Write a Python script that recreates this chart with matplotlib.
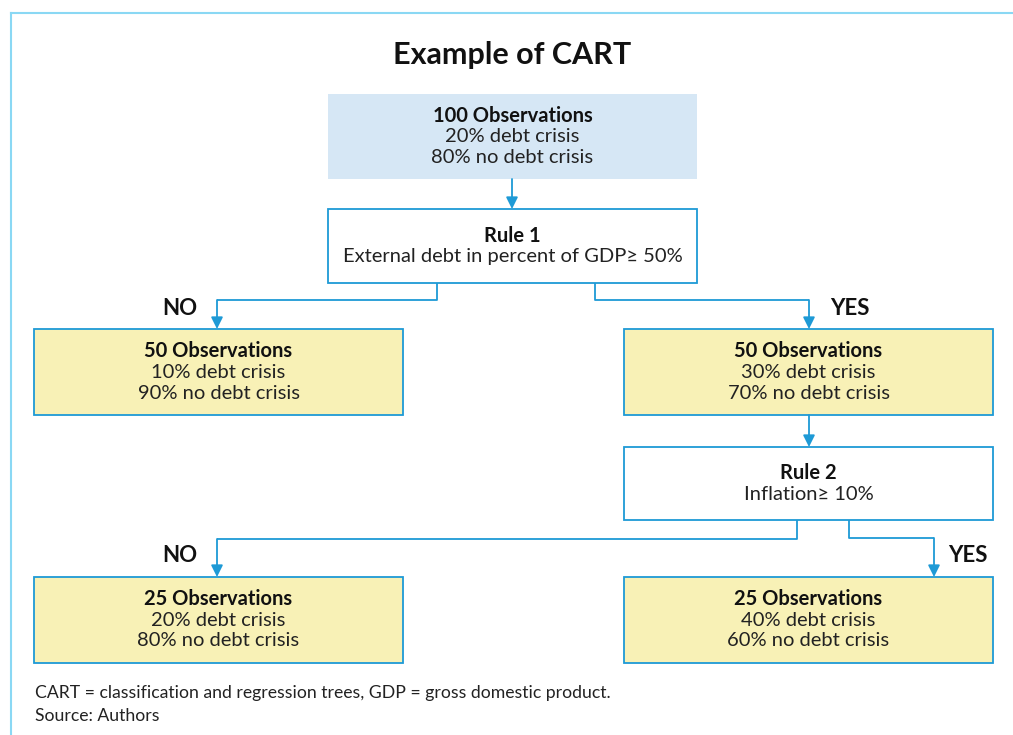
import matplotlib.pyplot as plt
from matplotlib.patches import Rectangle

plt.rcParams['font.family'] = ['Lato', 'DejaVu Sans']

# Tree contents
titulo = 'Example of CART'
nos_titulo = ['100 Observations', 'Rule 1', '50 Observations', '50 Observations',
              'Rule 2', '25 Observations', '25 Observations']
nos_texto = [
    ['20% debt crisis', '80% no debt crisis'],
    ['External debt in percent of GDP\u2265 50%'],
    ['10% debt crisis', '90% no debt crisis'],
    ['30% debt crisis', '70% no debt crisis'],
    ['Inflation\u2265 10%'],
    ['20% debt crisis', '80% no debt crisis'],
    ['40% debt crisis', '60% no debt crisis'],
]
rotulos = ['NO', 'YES', 'NO', 'YES']
nota = 'CART = classification and regression trees, GDP = gross domestic product.'
fonte = 'Source: Authors'

azul = '#1e9ad6'
amarelo = '#f8f1b6'
azul_claro = '#d6e7f5'

# box geometry (x0, y0, x1, y1) in pixels, y down
caixas = [
    (328, 94, 697, 179),
    (328, 209, 697, 283),
    (34, 329, 403, 415),
    (624, 329, 993, 415),
    (624, 447, 993, 520),
    (34, 577, 403, 663),
    (624, 577, 993, 663),
]
cores = [azul_claro, 'white', amarelo, amarelo, 'white', amarelo, amarelo]
bordas = [None, azul, azul, azul, azul, azul, azul]

fig = plt.figure(figsize=(10.13, 7.35), dpi=100)
ax = fig.add_axes([0, 0, 1, 1])
ax.set_xlim(0, 1013)
ax.set_ylim(735, 0)
ax.axis('off')

# moldura (linhas de cima e da esquerda)
ax.plot([11, 1013], [13, 13], color='#8ad8f4', lw=1.5)
ax.plot([11, 11], [13, 735], color='#8ad8f4', lw=1.5)

ax.text(512, 55, titulo, ha='center', va='center', fontsize=22, fontweight='bold', color='#111111')

for (x0, y0, x1, y1), cor, borda, cab, linhas in zip(caixas, cores, bordas, nos_titulo, nos_texto):
    ax.add_patch(Rectangle((x0, y0), x1 - x0, y1 - y0, facecolor=cor,
                           edgecolor=borda if borda else 'none', lw=1.3))
    xc = (x0 + x1) / 2
    n = 1 + len(linhas)
    yc = (y0 + y1) / 2
    passo = 21
    ys = [yc + (i - (n - 1) / 2) * passo for i in range(n)]
    ax.text(xc, ys[0], cab, ha='center', va='center', fontsize=14.5, fontweight='bold', color='#111111')
    for y, t in zip(ys[1:], linhas):
        ax.text(xc, y, t, ha='center', va='center', fontsize=14.5, color='#222222')


def seta(pontos):
    xs = [p[0] for p in pontos]
    ys = [p[1] for p in pontos]
    ax.plot(xs[:-1], ys[:-1], color=azul, lw=1.3, solid_capstyle='butt')
    ax.annotate('', xy=pontos[-1], xytext=pontos[-2],
                arrowprops=dict(arrowstyle='-|>,head_length=0.7,head_width=0.35', color=azul, lw=1.3,
                                shrinkA=0, shrinkB=0))


seta([(512, 179), (512, 209)])
seta([(437, 283), (437, 300), (217, 300), (217, 329)])
seta([(595, 283), (595, 300), (809, 300), (809, 329)])
seta([(809, 415), (809, 447)])
seta([(797, 520), (797, 539), (217, 539), (217, 577)])
seta([(849, 520), (849, 538), (934, 538), (934, 577)])

for (x, y), r in zip([(180, 308), (850, 308), (180, 555), (968, 555)], rotulos):
    ax.text(x, y, r, ha='center', va='center', fontsize=16, fontweight='bold', color='#111111')

ax.text(35, 693, nota, ha='left', va='center', fontsize=12.7, color='#222222')
ax.text(35, 716, fonte, ha='left', va='center', fontsize=12.7, color='#222222')

fig.savefig('out.png', dpi=100)
